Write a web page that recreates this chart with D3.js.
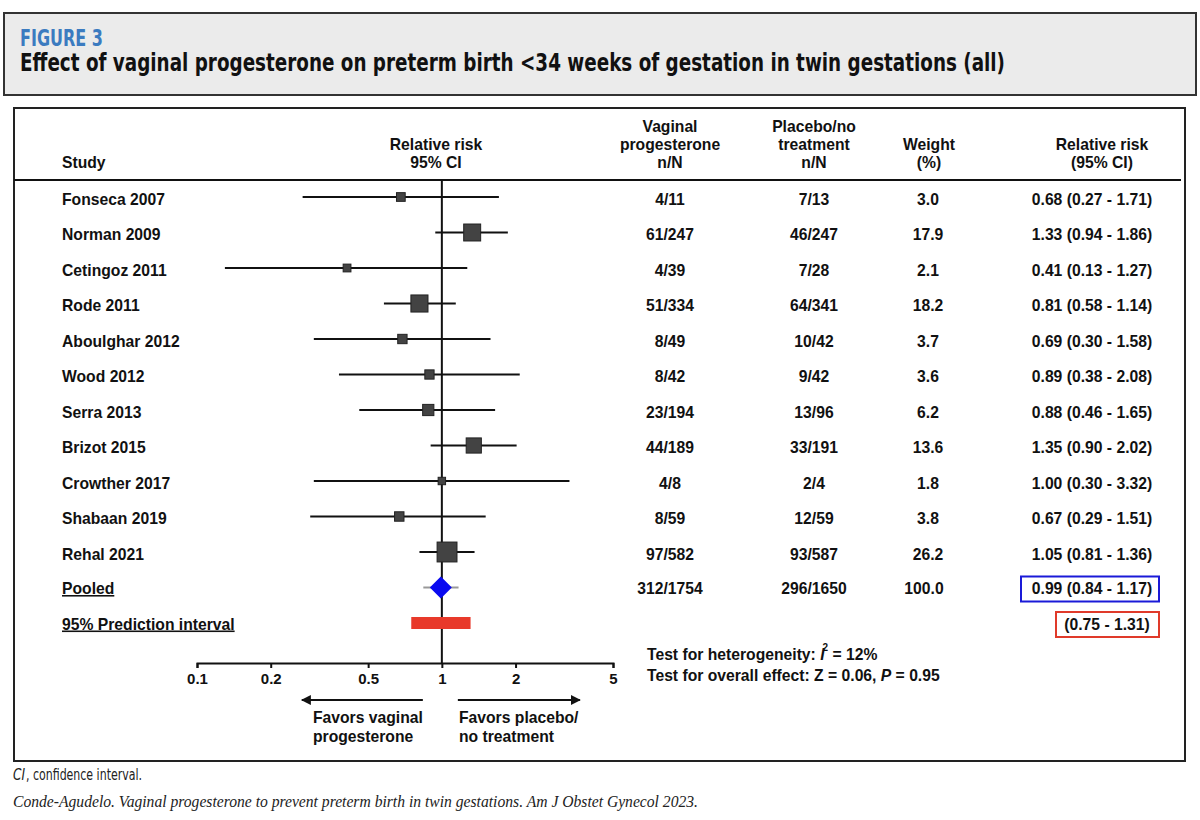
<!DOCTYPE html>
<html>
<head>
<meta charset="utf-8">
<script src="https://cdn.jsdelivr.net/npm/d3@7"></script>
<style>
  body { margin: 0; background: #fff; }
  svg text { font-family: "Liberation Sans", Arial, sans-serif; }
</style>
</head>
<body>
<div id="chart"></div>
<script>
// Data
const studies = ["Fonseca 2007", "Norman 2009", "Cetingoz 2011", "Rode 2011", "Aboulghar 2012", "Wood 2012",
                 "Serra 2013", "Brizot 2015", "Crowther 2017", "Shabaan 2019", "Rehal 2021"];
const progN = ["4/11", "61/247", "4/39", "51/334", "8/49", "8/42", "23/194", "44/189", "4/8", "8/59", "97/582"];
const placeboN = ["7/13", "46/247", "7/28", "64/341", "10/42", "9/42", "13/96", "33/191", "2/4", "12/59", "93/587"];
const weights = [3.0, 17.9, 2.1, 18.2, 3.7, 3.6, 6.2, 13.6, 1.8, 3.8, 26.2];
const rr = [0.68, 1.33, 0.41, 0.81, 0.69, 0.89, 0.88, 1.35, 1.00, 0.67, 1.05];
const rrLow = [0.27, 0.94, 0.13, 0.58, 0.30, 0.38, 0.46, 0.90, 0.30, 0.29, 0.81];
const rrHigh = [1.71, 1.86, 1.27, 1.14, 1.58, 2.08, 1.65, 2.02, 3.32, 1.51, 1.36];
const pooled = [0.99, 0.84, 1.17];          // estimate, low, high
const pooledN = ["312/1754", "296/1650", 100.0];
const predInterval = [0.75, 1.31];
const xTicks = [0.1, 0.2, 0.5, 1, 2, 5];

const W = 1200, H = 820;
const fmt = d3.format(".2f");
const condensed = "'Liberation Sans Narrow', 'DejaVu Sans Condensed', 'Liberation Sans', sans-serif";

const svg = d3.select("#chart").append("svg")
    .attr("width", W)
    .attr("height", H);

// Header band
svg.append("rect")
    .attr("x", 4).attr("y", 13).attr("width", 1192).attr("height", 82)
    .attr("fill", "#ebebeb").attr("stroke", "#333").attr("stroke-width", 2);

svg.append("text")
    .attr("x", 20).attr("y", 46)
    .style("font-family", condensed)
    .style("font-weight", "bold").style("font-size", "23px")
    .attr("fill", "#3b7bc0")
    .attr("textLength", 83).attr("lengthAdjust", "spacingAndGlyphs")
    .text("FIGURE 3");

svg.append("text")
    .attr("x", 20).attr("y", 71)
    .style("font-family", condensed)
    .style("font-weight", "bold").style("font-size", "24px")
    .attr("fill", "#111")
    .attr("textLength", 985).attr("lengthAdjust", "spacingAndGlyphs")
    .text("Effect of vaginal progesterone on preterm birth <34 weeks of gestation in twin gestations (all)");

// Main panel
svg.append("rect")
    .attr("x", 14).attr("y", 108).attr("width", 1171).attr("height", 653)
    .attr("fill", "#fff").attr("stroke", "#222").attr("stroke-width", 2);

svg.append("line")
    .attr("x1", 14).attr("x2", 1181).attr("y1", 180).attr("y2", 180)
    .attr("stroke", "#111").attr("stroke-width", 2);

// Scales
const x = d3.scaleLog()
    .domain([0.1, 5])
    .range([197, 613]);

const rowKeys = studies.concat(["Pooled", "95% Prediction interval"]);
const y = d3.scalePoint()
    .domain(rowKeys)
    .range([197, 623]);

const size = d3.scaleSqrt()
    .domain([0, 30])
    .range([3, 3 + 3.3 * Math.sqrt(30)]);

const col = {study: 62, prog: 670, plac: 814, weight: 928, rr: 1092};

const g = svg.append("g");

function bold(sel, px) {
  return sel.style("font-weight", "bold").style("font-size", (px || 15.7) + "px").attr("fill", "#111");
}

// Column headers
const headers = [
  {x: col.study, anchor: "start", lines: ["", "", "Study"]},
  {x: 436, anchor: "middle", lines: ["", "Relative risk", "95% CI"]},
  {x: col.prog, anchor: "middle", lines: ["Vaginal", "progesterone", "n/N"]},
  {x: col.plac, anchor: "middle", lines: ["Placebo/no", "treatment", "n/N"]},
  {x: 929, anchor: "middle", lines: ["", "Weight", "(%)"]},
  {x: 1102, anchor: "middle", lines: ["", "Relative risk", "(95% CI)"]}
];
headers.forEach(h => {
  h.lines.forEach((t, i) => {
    if (!t) return;
    bold(g.append("text"), 15.7)
        .attr("x", h.x).attr("y", 132 + i * 18)
        .attr("text-anchor", h.anchor)
        .text(t);
  });
});

// Reference line at RR = 1
g.append("line")
    .attr("x1", x(1)).attr("x2", x(1))
    .attr("y1", 180).attr("y2", 663)
    .attr("stroke", "#111").attr("stroke-width", 2);

// Study rows
const rows = studies.map((s, i) => ({study: s, prog: progN[i], plac: placeboN[i], w: weights[i],
                                      rr: rr[i], lo: rrLow[i], hi: rrHigh[i]}));

const row = g.selectAll(".row").data(rows).join("g").attr("class", "row");

row.append("line")
    .attr("x1", d => x(d.lo)).attr("x2", d => x(d.hi))
    .attr("y1", d => y(d.study)).attr("y2", d => y(d.study))
    .attr("stroke", "#111").attr("stroke-width", 2);

row.append("rect")
    .attr("x", d => x(d.rr) - size(d.w) / 2)
    .attr("y", d => y(d.study) - size(d.w) / 2)
    .attr("width", d => size(d.w)).attr("height", d => size(d.w))
    .attr("fill", "#434343").attr("stroke", "#222").attr("stroke-width", 1);

bold(row.append("text")).attr("x", col.study).attr("y", d => y(d.study) + 7.5).text(d => d.study);
bold(row.append("text")).attr("x", col.prog).attr("y", d => y(d.study) + 7.5)
    .attr("text-anchor", "middle").text(d => d.prog);
bold(row.append("text")).attr("x", col.plac).attr("y", d => y(d.study) + 7.5)
    .attr("text-anchor", "middle").text(d => d.plac);
bold(row.append("text")).attr("x", col.weight).attr("y", d => y(d.study) + 7.5)
    .attr("text-anchor", "middle").text(d => d.w.toFixed(1));
bold(row.append("text")).attr("x", col.rr).attr("y", d => y(d.study) + 7.5)
    .attr("text-anchor", "middle")
    .text(d => `${fmt(d.rr)} (${fmt(d.lo)} - ${fmt(d.hi)})`);

// Pooled row
const yP = y("Pooled");
g.append("line")
    .attr("x1", x(pooled[1])).attr("x2", x(pooled[2]))
    .attr("y1", yP).attr("y2", yP)
    .attr("stroke", "#999").attr("stroke-width", 2);
const cx = x(pooled[0]);
g.append("path")
    .attr("d", `M${cx - 11},${yP} L${cx},${yP - 11} L${cx + 11},${yP} L${cx},${yP + 11} Z`)
    .attr("fill", "#0a0af0");

bold(g.append("text")).attr("x", col.study).attr("y", yP + 6.5)
    .style("text-decoration", "underline").text("Pooled");
bold(g.append("text")).attr("x", col.prog).attr("y", yP + 6.5).attr("text-anchor", "middle").text(pooledN[0]);
bold(g.append("text")).attr("x", col.plac).attr("y", yP + 6.5).attr("text-anchor", "middle").text(pooledN[1]);
bold(g.append("text")).attr("x", col.weight - 4).attr("y", yP + 6.5).attr("text-anchor", "middle").text(pooledN[2].toFixed(1));
bold(g.append("text")).attr("x", col.rr).attr("y", yP + 6.5).attr("text-anchor", "middle")
    .text(`${fmt(pooled[0])} (${fmt(pooled[1])} - ${fmt(pooled[2])})`);
g.append("rect")
    .attr("x", 1021).attr("y", yP - 11).attr("width", 138).attr("height", 25)
    .attr("fill", "none").attr("stroke", "#1a1ad8").attr("stroke-width", 2);

// Prediction interval row
const yPI = y("95% Prediction interval");
g.append("rect")
    .attr("x", x(predInterval[0])).attr("y", yPI - 6)
    .attr("width", x(predInterval[1]) - x(predInterval[0])).attr("height", 12)
    .attr("fill", "#e8392a");
bold(g.append("text")).attr("x", col.study).attr("y", yPI + 6.5)
    .style("text-decoration", "underline").text("95% Prediction interval");
bold(g.append("text")).attr("x", 1107).attr("y", yPI + 6.5).attr("text-anchor", "middle")
    .text(`(${fmt(predInterval[0])} - ${fmt(predInterval[1])})`);
g.append("rect")
    .attr("x", 1056).attr("y", yPI - 11).attr("width", 103).attr("height", 25)
    .attr("fill", "none").attr("stroke", "#e03a2a").attr("stroke-width", 2);

// X axis
const axis = g.append("g")
    .attr("transform", "translate(0,663)")
    .call(d3.axisBottom(x).tickValues(xTicks).tickSize(5).tickSizeOuter(5).tickPadding(5)
          .tickFormat(d3.format("~g")));
axis.select(".domain").attr("stroke", "#111").attr("stroke-width", 2);
axis.selectAll(".tick line").attr("stroke", "#111").attr("stroke-width", 2);
axis.selectAll(".tick text")
    .style("font-family", "'Liberation Sans', Arial, sans-serif")
    .style("font-weight", "bold").style("font-size", "15px").attr("fill", "#111");

// Direction arrows
const defs = svg.append("defs");
defs.append("marker")
    .attr("id", "arrow")
    .attr("viewBox", "0 0 10 10").attr("refX", 9).attr("refY", 5)
    .attr("markerWidth", 5).attr("markerHeight", 5).attr("orient", "auto-start-reverse")
    .attr("markerUnits", "strokeWidth")
  .append("path").attr("d", "M0,0 L10,5 L0,10 Z").attr("fill", "#111");

g.append("line")
    .attr("x1", x(1) - 19).attr("x2", x(1) - 140).attr("y1", 700).attr("y2", 700)
    .attr("stroke", "#111").attr("stroke-width", 2).attr("marker-end", "url(#arrow)");
g.append("line")
    .attr("x1", x(1) + 16).attr("x2", x(1) + 138).attr("y1", 700).attr("y2", 700)
    .attr("stroke", "#111").attr("stroke-width", 2).attr("marker-end", "url(#arrow)");

[["Favors vaginal", "progesterone", 313], ["Favors placebo/", "no treatment", 459]].forEach(([a, b, xx]) => {
  bold(g.append("text")).attr("x", xx).attr("y", 723).text(a);
  bold(g.append("text")).attr("x", xx).attr("y", 742).text(b);
});

// Test statistics
const t1 = bold(g.append("text")).attr("x", 647).attr("y", 660);
t1.append("tspan").text("Test for heterogeneity: ");
t1.append("tspan").style("font-style", "italic").text("I");
t1.append("tspan").attr("dy", -9).attr("dx", -2).style("font-size", "10px").text("2");
t1.append("tspan").attr("dy", 9).text(" = 12%");

const t2 = bold(g.append("text")).attr("x", 647).attr("y", 681);
t2.append("tspan").text("Test for overall effect: Z = 0.06, ");
t2.append("tspan").style("font-style", "italic").text("P");
t2.append("tspan").text(" = 0.95");

// Footnotes
svg.append("text")
    .attr("x", 13).attr("y", 780)
    .style("font-family", condensed).style("font-style", "italic")
    .style("font-size", "16px").attr("fill", "#222")
    .attr("textLength", 12).attr("lengthAdjust", "spacingAndGlyphs")
    .text("CI");
svg.append("text")
    .attr("x", 26).attr("y", 780)
    .style("font-family", condensed)
    .style("font-size", "16px").attr("fill", "#222")
    .attr("textLength", 116).attr("lengthAdjust", "spacingAndGlyphs")
    .text(", confidence interval.");

svg.append("text")
    .attr("x", 13).attr("y", 807)
    .style("font-family", "'Liberation Serif', 'DejaVu Serif', serif")
    .style("font-style", "italic").style("font-size", "16px").attr("fill", "#222")
    .attr("textLength", 685).attr("lengthAdjust", "spacingAndGlyphs")
    .text("Conde-Agudelo. Vaginal progesterone to prevent preterm birth in twin gestations. Am J Obstet Gynecol 2023.");
</script>
</body>
</html>
